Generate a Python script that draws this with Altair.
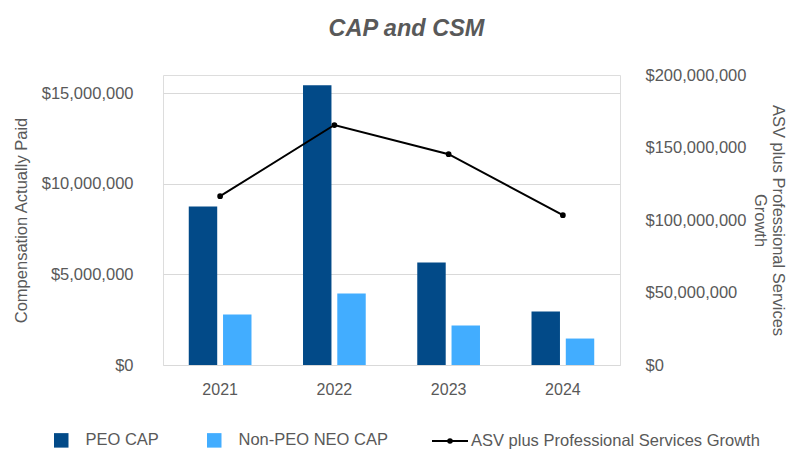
import altair as alt
import pandas as pd

years = ["2021", "2022", "2023", "2024"]
peo_cap = [8.75e6, 15.43e6, 5.66e6, 2.95e6]
non_peo_cap = [2.79e6, 3.95e6, 2.18e6, 1.46e6]
asv_growth = [116.4e6, 165.5e6, 145.4e6, 103.3e6]
bar_series = ["PEO CAP", "Non-PEO NEO CAP"]
line_name = "ASV plus Professional Services Growth"
left_ticks = [0, 5e6, 10e6, 15e6]
right_ticks = [0, 50e6, 100e6, 150e6, 200e6]

bars_df = pd.DataFrame({
    "year": years * 2,
    "series": [bar_series[0]] * 4 + [bar_series[1]] * 4,
    "value": peo_cap + non_peo_cap,
})
line_df = pd.DataFrame({"year": years, "series": [line_name] * 4, "asv": asv_growth})

FONT = "Liberation Sans"
GRAY = "#595959"
DARK = "#024A88"
LIGHT = "#42ADFF"
LBL = 16.5
TTL = 16.5

x_enc = alt.X(
    "year:N", sort=years, title=None,
    scale=alt.Scale(paddingInner=0.451, paddingOuter=0.2255),
    axis=alt.Axis(labelAngle=0, labelPadding=16, ticks=False, tickSize=0, domain=False,
                  labelFontSize=16, labelColor=GRAY, labelFont=FONT),
)

bars = alt.Chart(bars_df).mark_bar().encode(
    x=x_enc,
    xOffset=alt.XOffset("series:N", sort=bar_series,
                        scale=alt.Scale(domain=bar_series, paddingInner=0.17, paddingOuter=0)),
    y=alt.Y(
        "value:Q", title="Compensation Actually Paid",
        scale=alt.Scale(domain=[0, 16e6], nice=False, zero=True),
        axis=alt.Axis(values=left_ticks, format="$,.0f", grid=True, gridColor="#D9D9D9",
                      gridWidth=1, ticks=False, tickSize=0, domain=False, labelPadding=30,
                      labelFontSize=LBL, labelColor=GRAY, labelFont=FONT,
                      titlePadding=12, titleFontSize=TTL, titleFont=FONT, titleColor=GRAY,
                      titleFontWeight="normal"),
    ),
    color=alt.Color(
        "series:N", sort=bar_series,
        scale=alt.Scale(domain=bar_series, range=[DARK, LIGHT]),
        legend=alt.Legend(title=None, orient="none", legendX=-110, legendY=357,
                          direction="horizontal", symbolType="square", symbolSize=210,
                          symbolStrokeWidth=0, labelOffset=16, columnPadding=47,
                          labelFontSize=TTL, labelColor=GRAY, labelFont=FONT, padding=0,
                          labelLimit=400),
    ),
)

line = alt.Chart(line_df).mark_line(
    strokeWidth=2,
    point=alt.OverlayMarkDef(color="black", size=14, filled=True),
).encode(
    x=x_enc,
    y=alt.Y(
        "asv:Q", title=["ASV plus Professional Services", "Growth"],
        scale=alt.Scale(domain=[0, 200e6], nice=False, zero=True),
        axis=alt.Axis(orient="right", values=right_ticks, format="$,.0f", grid=False,
                      ticks=False, tickSize=0, domain=False, labelPadding=25,
                      labelFontSize=LBL, labelColor=GRAY, labelFont=FONT,
                      titlePadding=6, titleFontSize=TTL, titleFont=FONT, titleColor=GRAY,
                      titleFontWeight="normal", titleLineHeight=18),
    ),
    stroke=alt.Stroke(
        "series:N",
        scale=alt.Scale(domain=[line_name], range=["black"]),
        legend=alt.Legend(title=None, orient="none", legendX=268, legendY=347,
                          symbolType="M-1,0H1M-0.1,0a0.1,0.1 0 1,0 0.2,0a0.1,0.1 0 1,0 -0.2,0",
                          symbolSize=1296, symbolStrokeWidth=2, symbolFillColor="black",
                          labelOffset=2, labelFontSize=TTL, labelColor=GRAY, labelFont=FONT,
                          padding=0, labelLimit=500),
    ),
)

chart = alt.layer(bars, line).resolve_scale(y="independent").properties(
    width=457,
    height=290,
    autosize=alt.AutoSizeParams(type="none"),
    padding={"left": 155, "top": 67, "right": 170, "bottom": 84},
    title=alt.Title("CAP and CSM", fontSize=23.5, fontStyle="italic", fontWeight="bold",
                    color=GRAY, font=FONT, anchor="middle", dx=15, offset=27),
).configure_view(stroke=None).configure(background="white")

chart.save("out.html", embed_options={"renderer": "svg", "actions": False})
